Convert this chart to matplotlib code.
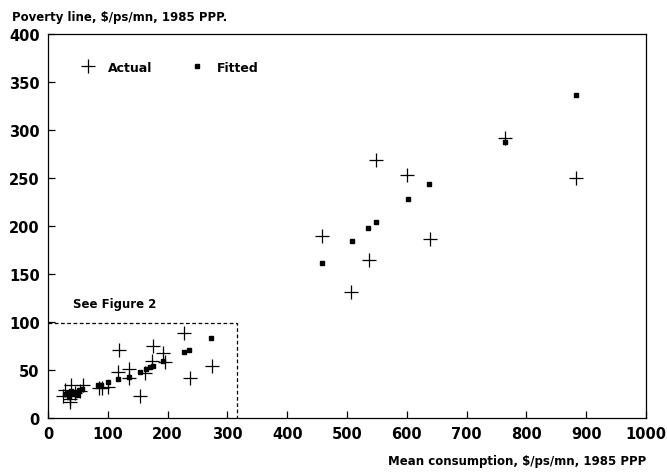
import matplotlib
matplotlib.use("Agg")
import matplotlib.pyplot as plt

# Actual poverty lines ($/ps/mn, 1985 PPP) vs mean consumption
actual_x = [25, 28, 37, 39, 45, 53, 59, 36, 85, 90, 101, 117, 118, 136, 136,
            153, 163, 176, 174, 192, 195, 228, 237, 274,
            459, 507, 536, 548, 600, 639, 764, 883]
actual_y = [23, 29, 17, 34, 26, 28, 34, 20, 31, 31, 32, 48, 71, 51, 42,
            23, 47, 75, 59, 68, 58, 89, 42, 54,
            190, 131, 165, 269, 253, 186, 292, 250]

# Fitted values
fitted_x = [28, 39, 42, 45, 51, 56, 35, 33, 48, 84, 89, 100, 117, 136, 154,
            164, 170, 176, 193, 228, 235, 272,
            458, 508, 535, 549, 602, 637, 764, 883]
fitted_y = [25, 28, 25, 27, 29, 30, 22, 26, 24, 34, 34, 38, 41, 43, 48,
            51, 53, 54, 59, 69, 71, 83,
            161, 184, 198, 204, 228, 244, 288, 336]

box_x = [0, 316, 316]
box_y = [99, 99, 0]

font = "DejaVu Sans"

fig = plt.figure(figsize=(6.67, 4.77), dpi=100)
ax = fig.add_axes([0.072, 0.1216, 0.8965, 0.805])

ax.plot(actual_x, actual_y, linestyle="none", marker="+", markersize=10,
        markeredgewidth=0.9, color="black", label="Actual")
ax.plot(fitted_x, fitted_y, linestyle="none", marker="s", markersize=2.6,
        color="black", label="Fitted")

# "See Figure 2" box
ax.plot(box_x, box_y, color="black", linewidth=0.9, linestyle=(0, (3, 2)))
ax.text(112, 112, "See Figure 2", ha="center", va="bottom",
        fontsize=8.5, fontweight="bold", family=font)

ax.set_xlim(0, 1000)
ax.set_ylim(0, 400)
ax.set_xticks(range(0, 1001, 100))
ax.set_yticks(range(0, 401, 50))
ax.tick_params(direction="in", length=5, width=0.9, labelsize=10.5, pad=6)
for lab in ax.get_xticklabels() + ax.get_yticklabels():
    lab.set_fontweight("bold")
    lab.set_family(font)
for s in ax.spines.values():
    s.set_linewidth(0.9)

leg = ax.legend(loc="upper left", bbox_to_anchor=(0.035, 0.96), ncol=2,
                frameon=False, handlelength=1.2, handletextpad=1.0,
                columnspacing=3.0,
                prop={"family": font, "weight": "bold", "size": 9})

fig.text(0.018, 0.964, "Poverty line, $/ps/mn, 1985 PPP.", ha="left",
         va="center", fontsize=8.5, fontweight="bold", family=font)
fig.text(0.969, 0.032, "Mean consumption, $/ps/mn, 1985 PPP", ha="right",
         va="center", fontsize=8.5, fontweight="bold", family=font)

fig.savefig("out.png", dpi=100)
